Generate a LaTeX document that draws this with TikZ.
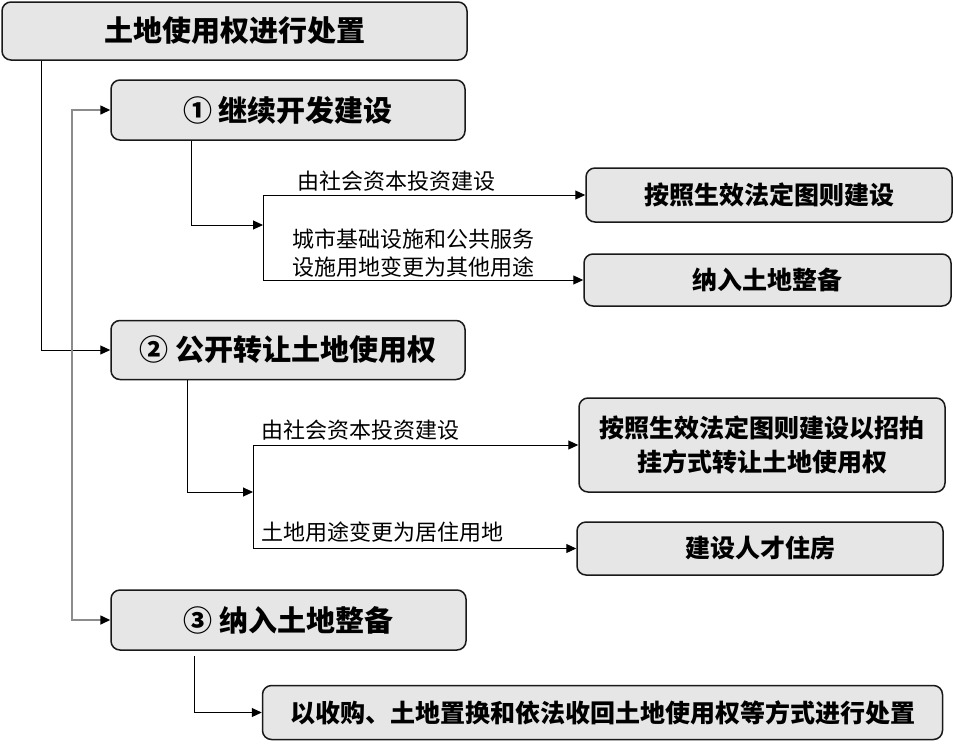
\documentclass[tikz,border=0pt]{standalone}
\usepackage{fontspec}
\usepackage{tikz}
\usepackage{xcolor}
\usetikzlibrary{arrows.meta}
\newfontfamily\cjk{Noto Sans CJK SC}
\definecolor{box-gray}{HTML}{E6E6E6}
\definecolor{bus-gray}{HTML}{8C8C8C}
\tikzset{
    main-box/.style = {draw=black!90, fill=box-gray, line width=1.5pt, rectangle, rounded corners=9pt, inner sep=0pt, font=\cjk\bfseries\fontsize{29}{34}\selectfont},
    result-box/.style = {main-box, align=center, font=\cjk\bfseries\fontsize{25}{34}\selectfont},
    branch-label/.style = {inner sep=0pt, align=left, anchor=south west, font=\cjk\fontsize{22}{28}\selectfont},
    link/.style = {draw=black, line width=1pt, -{Triangle[length=10pt, width=9pt]}},
    bus-link/.style = {draw=bus-gray, line width=1.6pt, {Triangle[length=10pt, width=9pt, color=black]}-{Triangle[length=10pt, width=9pt, color=black]}},
}

\begin{document}
\begin{tikzpicture}[x=1pt, y=-1pt]
\useasboundingbox (0,0) rectangle (953,745);

\node[main-box, minimum width=465pt, minimum height=58pt] (root) at (234.5,31) {土地使用权进行处置};
\node[main-box, minimum width=354pt, minimum height=60pt] (step-1) at (288,110) {① 继续开发建设};
\node[main-box, minimum width=354pt, minimum height=59pt] (step-2) at (288,350) {② 公开转让土地使用权};
\node[main-box, minimum width=355pt, minimum height=60pt] (step-3) at (288.5,620) {③ 纳入土地整备};

\node[result-box, minimum width=366pt, minimum height=54pt] (build-plan) at (769,195) {按照生效法定图则建设};
\node[result-box, minimum width=367pt, minimum height=52pt] (land-prep) at (767.5,280) {纳入土地整备};
\node[result-box, minimum width=366pt, minimum height=94pt] (transfer) at (762,445) {按照生效法定图则建设以招拍\\挂方式转让土地使用权};
\node[result-box, minimum width=366pt, minimum height=53pt] (talent-housing) at (760,548.5) {建设人才住房};
\node[result-box, minimum width=680pt, minimum height=54pt] (dispose) at (602.5,712.5) {以收购、土地置换和依法收回土地使用权等方式进行处置};

\node[branch-label] (label-1a) at (297,192) {由社会资本投资建设};
\node[branch-label] (label-1b) at (292,278) {城市基础设施和公共服务\\设施用地变更为其他用途};
\node[branch-label] (label-2a) at (261,441) {由社会资本投资建设};
\node[branch-label] (label-2b) at (261,543) {土地用途变更为居住用地};

\coordinate (split-1) at (263,225);
\coordinate (split-2) at (253,492);

\draw[link] ([xshift=40pt]root.south west) |- (step-2.west);
\draw[bus-link] (step-1.west) -- ++(-38,0) |- (step-3.west);

\draw[link] ([xshift=81pt]step-1.south west) |- (split-1);
\draw[link] (split-1) |- (build-plan.west);
\draw[link] (split-1) |- (land-prep.west);

\draw[link] ([xshift=77pt]step-2.south west) |- (split-2);
\draw[link] (split-2) |- (transfer.west);
\draw[link] (split-2) |- (talent-housing.west);

\draw[link] ([xshift=84pt, yshift=-5pt]step-3.south west) |- (dispose.west);
\end{tikzpicture}
\end{document}
